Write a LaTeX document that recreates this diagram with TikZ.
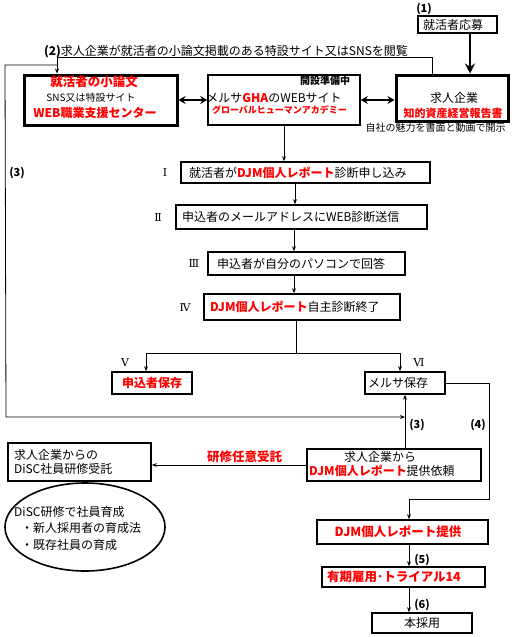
\documentclass[tikz,border=0pt]{standalone}
\usepackage{fontspec}
\setmainfont{Noto Sans CJK JP}
\newfontfamily\rmnfont{DejaVu Serif}
\usetikzlibrary{arrows.meta,shapes.geometric}
\definecolor{jred}{RGB}{255,0,0}
\newcommand\fsz[2]{\fontsize{#1}{#2}\selectfont}
\newcommand\rb[1]{{\bfseries\color{jred}#1}}
\begin{document}
\begin{tikzpicture}[x=1pt,y=-1pt,
  box/.style={draw,line width=1.6pt,inner sep=0pt,font=\fsz{12}{14}},
  tbox/.style={draw,line width=3pt,inner sep=0pt},
  txt/.style={inner sep=0pt,font=\fsz{12}{14}},
  lbl/.style={inner sep=0pt,font=\fsz{11}{13}\bfseries},
  rnum/.style={inner sep=0pt,font=\fsz{11}{13}\rmnfont},
  conn/.style={line width=0.8pt},
  arr/.style={conn,-{Stealth[length=5pt,width=4pt]}},
  dbl/.style={line width=2.4pt,{Stealth[length=7pt,width=8pt]}-{Stealth[length=7pt,width=8pt]}},
  bigarr/.style={line width=2.4pt,-{Stealth[length=10pt,width=10pt]}}]
\useasboundingbox (0,0) rectangle (520,637);

% top
\node[lbl] (l1) at (424,9) {(1)};
\node[box,minimum width=79pt,minimum height=17pt,inner xsep=5pt,text width=69pt,align=left] (oubo) at (457.5,24.5) {就活者応募};
\node[txt] (t2) at (226,52) {{\bfseries(2)}求人企業が就活者の小論文掲載のある特設サイト又はSNSを閲覧};

% top row boxes
\node[tbox,minimum width=153pt,minimum height=50pt] (shoron) at (100.5,100) {};
\node[inner sep=0pt,font=\fsz{12.5}{14}\bfseries,text=jred] (sh1) at (94,82) {就活者の小論文};
\node[inner sep=0pt,font=\fsz{10}{12}] (sh2) at (91,98) {SNS又は特設サイト};
\node[inner sep=0pt,font=\fsz{12}{14}\bfseries,text=jred] (sh3) at (95,113) {WEB職業支援センター};

\node[box,minimum width=152pt,minimum height=50pt] (gha) at (284,100) {};
\node[inner sep=0pt,font=\fsz{10}{12}\bfseries] (g1) at (325,81) {開設準備中};
\node[txt] (g2) at (274,98) {メルサ\rb{GHA}のWEBサイト};
\node[inner sep=0pt,font=\fsz{9}{11}\bfseries,text=jred] (g3) at (279.5,110) {グローバルヒューマンアカデミー};

\node[tbox,minimum width=112pt,minimum height=46pt] (kyujin) at (452,98) {};
\node[txt] (k1) at (454,98) {求人企業};
\node[inner sep=0pt,font=\fsz{11}{13}\bfseries,text=jred] (k2) at (453,113) {知的資産経営報告書};
\node[inner sep=0pt,font=\fsz{10}{12}] (k3) at (435.5,128) {自社の魅力を書面と動画で開示};

\draw[bigarr] ([xshift=12.5pt]oubo.south) -- ([xshift=18pt]kyujin.north);
\draw[dbl] (shoron.east) -- (gha.west);
\draw[dbl] (gha.east) -- (gha.east -| kyujin.west);
\draw[arr] ([xshift=-20pt]kyujin.north) -- ++(0,-16) -| ([xshift=-43.5pt]shoron.north);
\coordinate (c3a) at (57,65);
\coordinate (j3) at (405,417);
\draw[arr] (c3a) -- (5,65) -- (6,417) -- (j3);
\node[lbl] (l3a) at (17,173) {(3)};

% flow
\node[box,minimum width=249pt,minimum height=21pt,inner xsep=8pt,text width=233pt,align=left] (b1) at (305.5,172.5) {就活者が\rb{DJM個人レポート}診断申し込み};
\node[rnum] (r1) at (165,172) {Ⅰ};
\node[box,minimum width=251pt,minimum height=24pt,inner xsep=6pt,text width=239pt,align=left] (b2) at (301.5,217) {申込者のメールアドレスにWEB診断送信};
\node[rnum] (r2) at (158,217) {Ⅱ};
\node[box,minimum width=197pt,minimum height=23pt,inner xsep=9pt,text width=179pt,align=left] (b3) at (306.5,263.5) {申込者が自分のパソコンで回答};
\node[rnum] (r3) at (194,263) {Ⅲ};
\node[box,minimum width=196pt,minimum height=26pt,inner xsep=6pt,text width=184pt,align=left] (b4) at (302,307) {\rb{DJM個人レポート}自主診断終了};
\node[rnum] (r4) at (185,307) {Ⅳ};

\draw[arr] (gha.south) -- (gha.south |- b1.north);
\draw[arr] ([xshift=-10.5pt]b1.south) -- ([xshift=-6.5pt]b2.north);
\draw[arr] ([xshift=-7.5pt]b2.south) -- ([xshift=-12.5pt]b3.north);
\draw[arr] ([xshift=-12.5pt]b3.south) -- ([xshift=-8pt]b4.north);

\node[box,minimum width=80pt,minimum height=22pt] (b5) at (152,383) {\rb{申込者保存}};
\node[box,minimum width=80pt,minimum height=22pt,inner xsep=3pt,text width=74pt,align=left] (b6) at (405,383) {メルサ保存};
\node[rnum] (r5) at (125,362) {Ⅴ};
\node[rnum] (r6) at (419,362) {Ⅵ};
\draw[conn] ([xshift=-6pt]b4.south) -- ++(0,33) coordinate (br);
\draw[arr] (br) -| ([xshift=-6pt]b5.north);
\draw[arr] (br) -| ([xshift=-5pt]b6.north);

% lower right
\node[box,minimum width=174pt,minimum height=32pt] (irai) at (394,465) {};
\node[txt] (i1) at (380,457) {求人企業から};
\node[txt,anchor=west] (i2) at (309,471) {\rb{DJM個人レポート}提供依頼};
\draw[arr] ([xshift=11pt]irai.north) -- (b6.south);
\node[lbl] (l3b) at (417,425) {(3)};
\node[lbl] (l4) at (478,425) {(4)};

\node[box,minimum width=171pt,minimum height=24pt] (b7) at (402.5,532) {};
\node[inner sep=0pt,font=\fsz{12.5}{14}\bfseries,text=jred] (b7t) at (398,532) {DJM個人レポート提供};
\draw[arr] (b6.east) -- ++(44,0) -- ++(0,116) -| ([xshift=6.5pt]b7.north);

\node[box,minimum width=163pt,minimum height=20pt,inner xsep=5pt,text width=153pt,align=left] (b8) at (403.5,577) {\rb{\fsz{12.5}{14}有期雇用･トライアル14}};
\draw[arr] ([xshift=6.5pt]b7.south) -- ([xshift=5.5pt]b8.north);
\node[lbl] (l5) at (422,560) {(5)};

\node[box,minimum width=100pt,minimum height=20pt] (b9) at (422,623) {本採用};
\draw[arr] ([xshift=5.5pt]b8.south) -- ([xshift=-13pt]b9.north);
\node[lbl] (l6) at (422,605) {(6)};

% lower left
\node[box,minimum width=143pt,minimum height=38pt,inner xsep=6pt,text width=131pt,align=left] (disc) at (79.5,462) {求人企業からの\\DiSC社員研修受託};
\draw[arr] (irai.west) -- (irai.west -| disc.east);
\node[inner sep=0pt,font=\fsz{12.5}{14}\bfseries,text=jred] (ken) at (244.5,457) {研修任意受託};

\node[ellipse,draw,line width=1.6pt,minimum width=160pt,minimum height=88pt,inner sep=0pt] (ell) at (85,527) {};
\node[txt,anchor=north west,align=left,font=\fsz{12}{16.5}] (ellt) at (14,506) {DiSC研修で社員育成\\\hspace*{7pt}・新人採用者の育成法\\\hspace*{7pt}・既存社員の育成};
\end{tikzpicture}
\end{document}
